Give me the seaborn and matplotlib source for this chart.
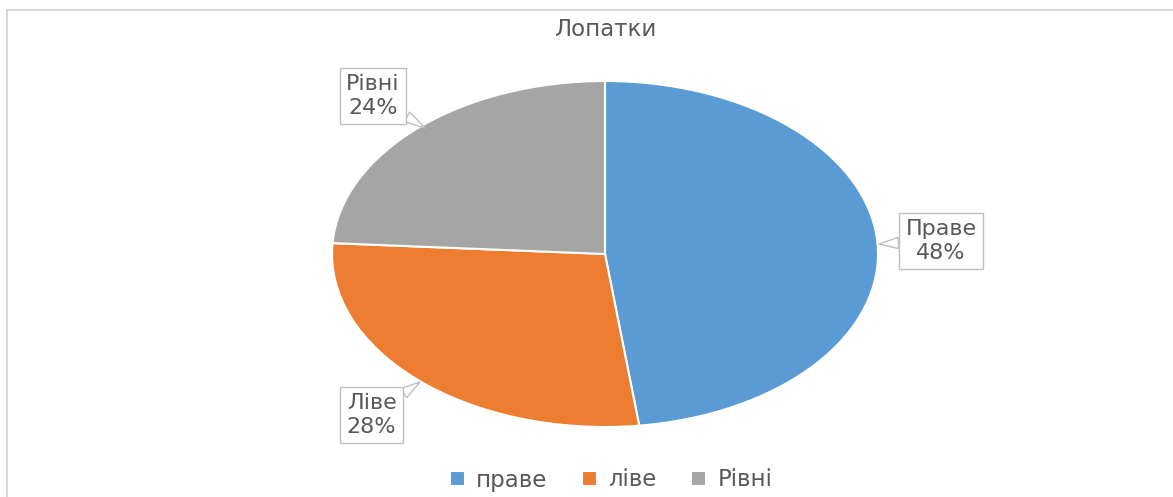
import matplotlib

matplotlib.use('Agg')

import matplotlib.pyplot as plt
import seaborn as sns
from matplotlib.patches import Rectangle

title = 'Лопатки'
categories = ['праве', 'ліве', 'Рівні']
label_names = ['Праве', 'Ліве', 'Рівні']
shares = [48, 28, 24]
colors = ['#5B9BD5', '#ED7D31', '#A5A5A5']


def main() -> None:
    sns.set_theme(style='white')
    plt.rcParams['font.family'] = ['DejaVu Sans']
    text_color = '#595959'

    fig = plt.figure(figsize=(11.73, 4.97), dpi=100)
    # pie axes stretched horizontally, like the source picture
    ax = fig.add_axes([332 / 1173, 70 / 497, 546 / 1173, 346 / 497])
    wedges, _ = ax.pie(shares, colors=colors, startangle=90, counterclock=False,
                       radius=1, wedgeprops=dict(edgecolor='white', linewidth=1.5))
    ax.set_xlim(-1, 1)
    ax.set_ylim(-1, 1)
    ax.set_aspect('auto')
    ax.axis('off')

    # callout labels: (text centre, tail tip) in data units
    spots = [((1.231, 0.075), (1.004, 0.058)),
             ((-0.855, -0.931), (-0.678, -0.740)),
             ((-0.85, 0.913), (-0.659, 0.728))]
    for name, val, (xytext, xy) in zip(label_names, shares, spots):
        ax.annotate(f'{name}\n{val}%', xy=xy, xytext=xytext, ha='center', va='center',
                    fontsize=16, color=text_color, linespacing=1.2,
                    annotation_clip=False,
                    bbox=dict(boxstyle='square,pad=0.3', fc='white', ec='#BFBFBF', lw=1),
                    arrowprops=dict(arrowstyle='wedge,tail_width=0.5', fc='white',
                                    ec='#BFBFBF', lw=1, shrinkA=0, shrinkB=0))

    fig.text(605 / 1173, 1 - 30 / 497, title, ha='center', va='center',
             fontsize=16.5, color=text_color)

    fig.legend(wedges, categories, loc='center', bbox_to_anchor=(611 / 1173, 1 - 480 / 497),
               ncol=3, frameon=False, fontsize=16.5, labelcolor=text_color,
               handlelength=0.65, handleheight=0.6, handletextpad=0.5, columnspacing=1.5)

    # chart area border
    fig.patches.append(Rectangle((7 / 1173, -0.05), 1.1, 1 - 10 / 497 + 0.05,
                                 transform=fig.transFigure, fill=False,
                                 edgecolor='#D9D9D9', linewidth=1.5))

    fig.savefig('out.png', dpi=100)
    plt.close(fig)


if __name__ == '__main__':
    main()
